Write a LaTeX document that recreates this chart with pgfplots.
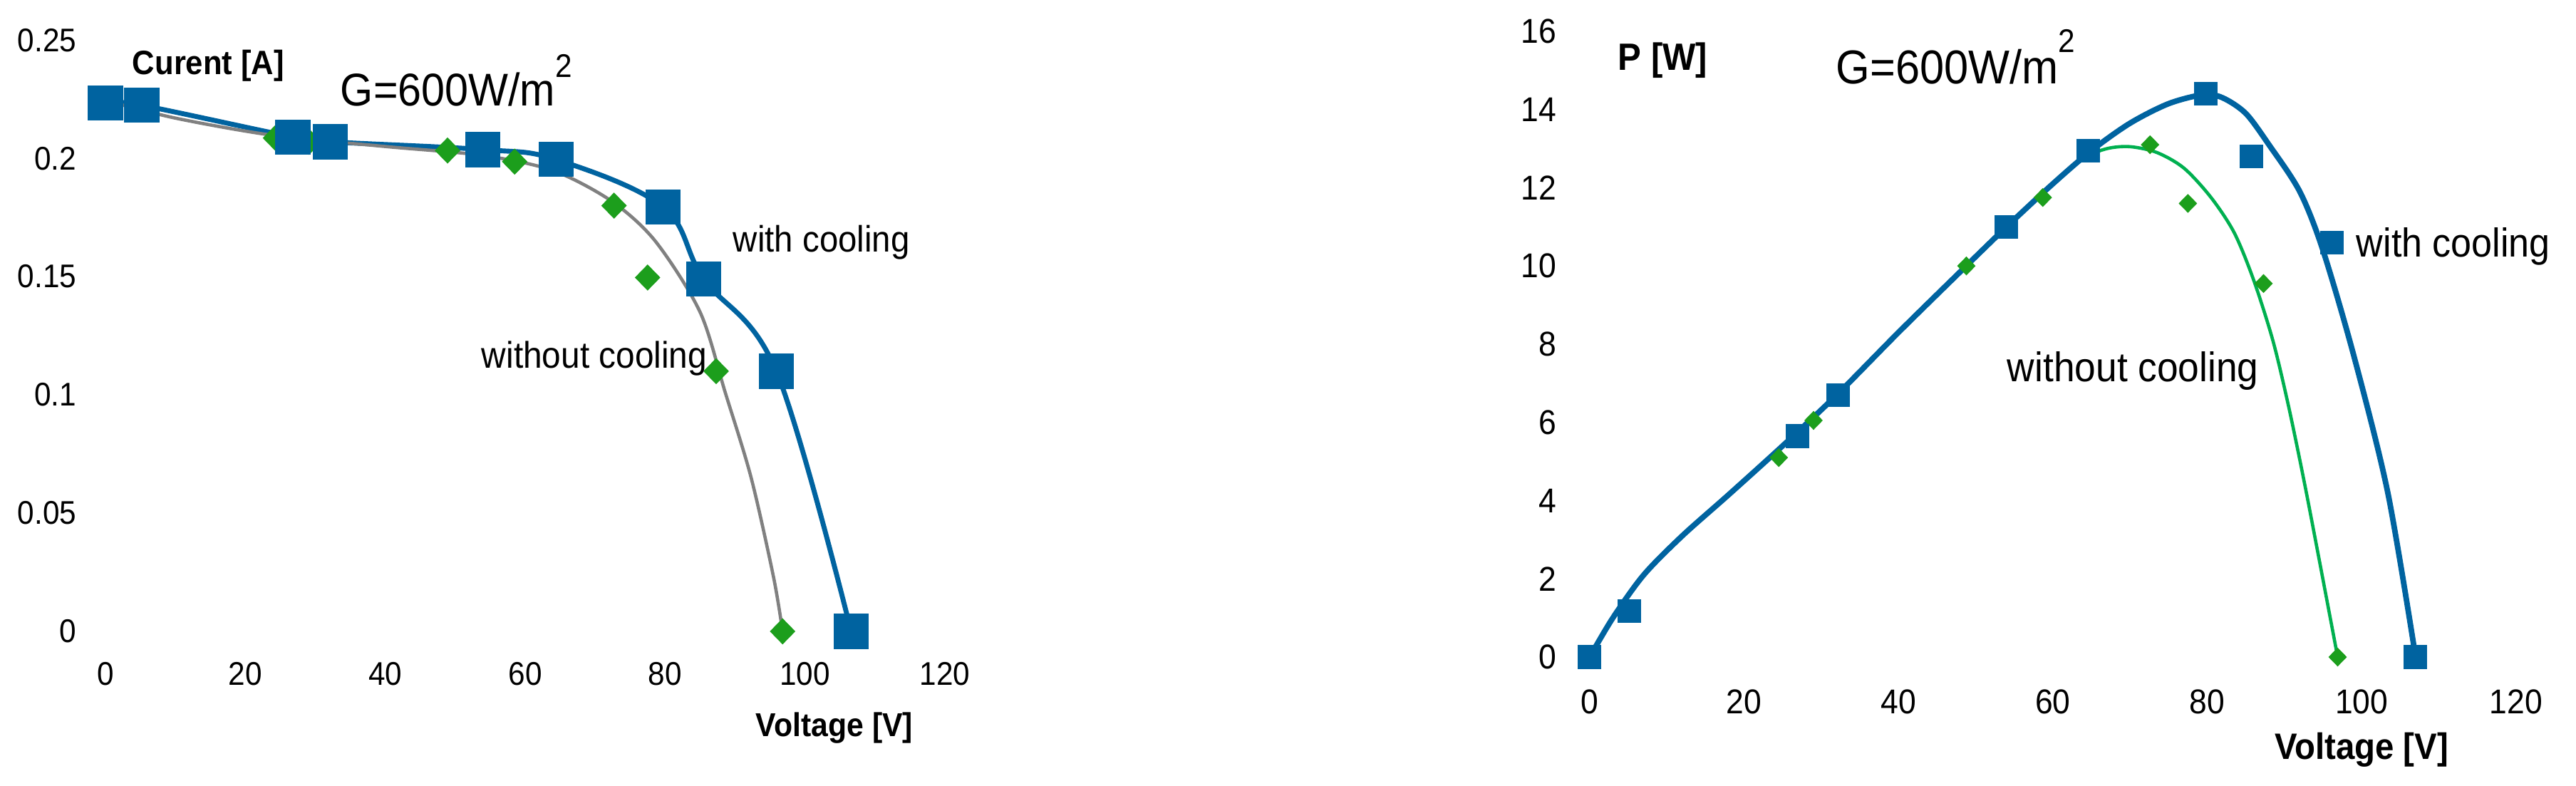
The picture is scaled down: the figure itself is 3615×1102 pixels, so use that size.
\documentclass[border=0pt]{standalone}
\usepackage{fontspec}
\setmainfont{Liberation Sans}[FakeStretch=0.92]
\usepackage{pgfplots}
\pgfplotsset{compat=1.18}

\definecolor{cblue}{RGB}{0,99,160}
\definecolor{cgreen}{RGB}{28,158,28}
\definecolor{lgreen}{RGB}{0,176,80}
\definecolor{cgray}{RGB}{128,128,128}

\pgfplotsset{
  pv/.style={
    scale only axis, clip=false,
    anchor=south west,
    axis line style={draw=none},
    major tick length=0pt,
    tick style={draw=none},
    xmin=0, xmax=120,
    xtick={0,20,40,60,80,100,120},
    /pgf/number format/assume math mode=true,
    /pgf/number format/fixed,
    /pgf/number format/precision=2,
  }
}

\begin{document}
\begin{tikzpicture}[x=0.2174pt,y=0.2174pt]

% ---- left: current vs voltage
\begin{axis}[pv,
    at={(32.18pt,46.96pt)}, width=256.1pt, height=180.4pt,
    ymin=0, ymax=0.25,
    ytick={0,0.05,0.1,0.15,0.2,0.25},
    ticklabel style={font=\fontsize{10}{12}\selectfont, inner sep=0pt},
    xticklabel style={anchor=center, yshift=-13pt},
    yticklabel style={anchor=east, xshift=-8.7pt},
  ]
  % without cooling (measured)
  \addplot[only marks, mark=diamond*, mark size=3.7pt,
    mark options={xscale=1.3, draw=cgreen, fill=cgreen}] coordinates {
    (24.3,0.2086) (29.1,0.207) (48.9,0.2033) (58.5,0.1986)
    (72.7,0.180) (77.5,0.1496) (87.3,0.110) (96.8,0)
  };
  % with cooling
  \addplot[cblue, line width=1.5pt, smooth, tension=0.6, mark=square*,
    mark size=4.6pt, mark options={solid, fill=cblue}] coordinates {
    (0,0.2235) (5.2,0.2224) (26.8,0.209) (32.1,0.207) (53.9,0.2037)
    (64.4,0.1995) (79.7,0.1795) (85.5,0.149) (95.9,0.110) (106.6,0)
  };
  % trend line without cooling
  \addplot[cgray, line width=1pt, smooth, no marks] coordinates {
    (0,0.2245) (10,0.217) (24,0.2097) (40,0.205) (54,0.2012) (64,0.1948)
    (72.3,0.182) (78.6,0.165) (85,0.135) (88.6,0.101) (92.3,0.065)
    (95.5,0.023) (96.8,0)
  };
\end{axis}

% ---- right: power vs voltage
\begin{axis}[pv,
    at={(485.0pt,39.13pt)}, width=282.6pt, height=190.9pt,
    ymin=0, ymax=16,
    ytick={0,2,4,6,8,10,12,14,16},
    ticklabel style={font=\fontsize{10.5}{12}\selectfont, inner sep=0pt},
    xticklabel style={anchor=center, yshift=-13.7pt},
    yticklabel style={anchor=east, xshift=-10pt},
  ]
  \addplot[only marks, mark=diamond*, mark size=2.6pt,
    mark options={xscale=1.3, draw=cgreen, fill=cgreen}] coordinates {
    (24.5,5.1) (29,6.05) (48.8,10.0) (58.7,11.75) (72.6,13.1)
    (77.5,11.6) (87.3,9.55) (96.9,0)
  };
  \addplot[lgreen, line width=1pt, smooth, no marks] coordinates {
    (0,0) (3,1.0) (7,2.1) (12,3.1) (18,4.15) (25,5.4) (32,6.7) (40,8.3)
    (48,9.85) (54,11.0) (60,12.1) (64,12.75) (67,13.0) (70,13.05)
    (73.5,12.9) (77,12.5) (80.5,11.75) (83.5,10.85) (86,9.65) (88.5,8.1)
    (90.5,6.45) (92.5,4.55) (94.5,2.5) (96.9,0)
  };
  \addplot[only marks, mark=square*, mark size=3.4pt,
    mark options={draw=cblue, fill=cblue}] coordinates {
    (0,0) (5.1,1.17) (26.9,5.65) (32.2,6.7) (54,11.0) (64.6,12.95)
    (79.8,14.4) (85.7,12.8) (96.2,10.6) (107,0)
  };
  \addplot[cblue, line width=1.7pt, smooth, no marks] coordinates {
    (0,0) (3,1.0) (7,2.1) (12,3.1) (18,4.15) (25,5.4) (32,6.7) (40,8.3)
    (48,9.85) (54,11.0) (60,12.1) (65,12.95) (70,13.65) (75,14.15)
    (79.5,14.38) (82,14.3) (85,13.9) (88,13.1) (92,11.9) (95,10.4)
    (99,7.7) (103.4,4.2) (107,0)
  };
\end{axis}

% ---- annotations, left
\node[anchor=west, inner sep=0, font=\bfseries\fontsize{10.3}{12}\selectfont] at (185,1010) {Curent [A]};
\node[anchor=west, inner sep=0, font=\fontsize{14}{16}\selectfont] at (477,989)
  {G=600W/m\raisebox{8.8pt}{\fontsize{10}{12}\selectfont 2}};
\node[anchor=west, inner sep=0, font=\fontsize{11.2}{13}\selectfont] at (1028,762) {with cooling};
\node[anchor=west, inner sep=0, font=\fontsize{11.3}{13}\selectfont] at (675,599) {without cooling};
\node[inner sep=0, font=\bfseries\fontsize{10.1}{12}\selectfont] at (1171,80) {Voltage [V]};

% ---- annotations, right
\node[anchor=west, inner sep=0, font=\bfseries\fontsize{11.6}{13}\selectfont] at (2270,1017) {P [W]};
\node[anchor=west, inner sep=0, font=\fontsize{14.5}{16}\selectfont] at (2576,1022)
  {G=600W/m\raisebox{9.6pt}{\fontsize{10}{12}\selectfont 2}};
\node[anchor=west, inner sep=0, font=\fontsize{12.3}{14}\selectfont] at (3306,756) {with cooling};
\node[anchor=west, inner sep=0, font=\fontsize{12.6}{14}\selectfont] at (2816,581) {without cooling};
\node[inner sep=0, font=\bfseries\fontsize{11.2}{13}\selectfont] at (3314,50) {Voltage [V]};

\pgfresetboundingbox
\path[use as bounding box] (0,0) rectangle (3615,1102);
\end{tikzpicture}
\end{document}
